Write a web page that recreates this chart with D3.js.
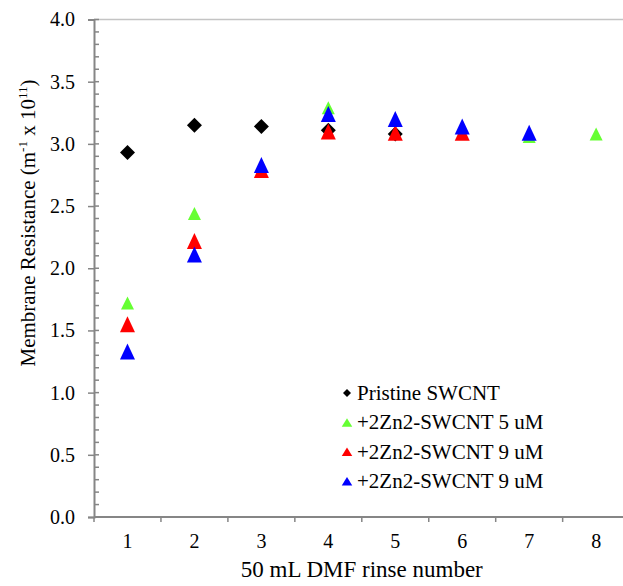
<!DOCTYPE html>
<html>
<head>
<meta charset="utf-8">
<script src="https://cdn.jsdelivr.net/npm/d3@7"></script>
<style>
  body { margin: 0; background: #fff; }
</style>
</head>
<body>
<div id="chart-area"></div>
<script>
// rinse numbers on the x axis
const rinses = [1, 2, 3, 4, 5, 6, 7, 8]
const yTicks = [0, 0.5, 1, 1.5, 2, 2.5, 3, 3.5, 4]

// resistance values, null where a point is not visible
const pristine = [2.93, 3.15, 3.14, 3.11, 3.08, null, null, null]
const zn5 = [1.72, 2.44, null, 3.29, null, null, 3.06, 3.08]
const zn9a = [1.55, 2.22, 2.79, 3.10, 3.09, 3.09, null, null]
const zn9b = [1.33, 2.11, 2.83, 3.24, 3.20, 3.14, 3.09, null]

const seriesNames = ["Pristine SWCNT", "+2Zn2-SWCNT 5 uM", "+2Zn2-SWCNT 9 uM", "+2Zn2-SWCNT 9 uM"]
const seriesColors = ["#000000", "#66ff33", "#ff0000", "#0000ff"]

const FONT = "Liberation Serif"
const W = 623, H = 586
const LEFT = 94, TOP = 19.5, RIGHT = 629.6, BOTTOM = 517

const svg = d3.select("#chart-area").append("svg")
  .attr("width", W)
  .attr("height", H)
  .attr("font-family", FONT)

const x = d3.scaleBand().domain(rinses).range([LEFT, RIGHT])
const y = d3.scaleLinear().domain([0, 4]).range([BOTTOM, TOP])

const axisColor = "#868686"

// top line at 4.0
svg.append("line")
  .attr("x1", LEFT).attr("x2", W)
  .attr("y1", y(4)).attr("y2", y(4))
  .attr("stroke", "#c4c4c4").attr("stroke-width", 1.5)

// minor y ticks (inside)
const minor = d3.range(0, 41).map(d => d / 10)
svg.append("g").selectAll("line")
  .data(minor)
  .join("line")
  .attr("x1", LEFT).attr("x2", LEFT + 5)
  .attr("y1", d => y(d)).attr("y2", d => y(d))
  .attr("stroke", axisColor).attr("stroke-width", 1.5)

// Y axis
const yAxisCall = d3.axisLeft(y)
  .tickValues(yTicks)
  .tickFormat(d3.format(".1f"))
  .tickSize(6)
  .tickPadding(13)
const yAxis = svg.append("g")
  .attr("transform", `translate(${LEFT}, 0)`)
  .call(yAxisCall)
  .attr("font-family", FONT)
  .attr("font-size", 20)
yAxis.select(".domain").attr("stroke", axisColor).attr("stroke-width", 2)
yAxis.selectAll(".tick line").attr("stroke", axisColor).attr("stroke-width", 1.5)
yAxis.selectAll(".tick text").attr("fill", "#000")

// X axis (category, ticks between bands)
const xAxisCall = d3.axisBottom(x).tickSize(0).tickPadding(17)
const xAxis = svg.append("g")
  .attr("transform", `translate(0, ${BOTTOM})`)
  .call(xAxisCall)
  .attr("font-family", FONT)
  .attr("font-size", 20)
xAxis.select(".domain").remove()
xAxis.selectAll(".tick text").attr("fill", "#000")
svg.append("line")
  .attr("x1", LEFT).attr("x2", W)
  .attr("y1", BOTTOM).attr("y2", BOTTOM)
  .attr("stroke", axisColor).attr("stroke-width", 2)
svg.append("g").selectAll("line")
  .data(rinses)
  .join("line")
  .attr("x1", d => x(d)).attr("x2", d => x(d))
  .attr("y1", BOTTOM).attr("y2", BOTTOM + 5)
  .attr("stroke", axisColor).attr("stroke-width", 1.5)

// axis titles
svg.append("text")
  .attr("x", (LEFT + RIGHT) / 2)
  .attr("y", 577)
  .attr("text-anchor", "middle")
  .attr("font-size", 23)
  .text("50 mL DMF rinse number")

const yLabel = svg.append("text")
  .attr("transform", "translate(35, 223) rotate(-90)")
  .attr("text-anchor", "middle")
  .attr("font-size", 21)
yLabel.append("tspan").text("Membrane Resistance (m")
yLabel.append("tspan").attr("font-size", 13).attr("dy", -8).text("-1")
yLabel.append("tspan").attr("dy", 8).text(" x 10")
yLabel.append("tspan").attr("font-size", 13).attr("dy", -8).text("11")
yLabel.append("tspan").attr("dy", 8).text(")")

// marker shapes
function diamond(r) {
  return `M0,${-r}L${r},0L0,${r}L${-r},0Z`
}
function triangle(w, h) {
  return `M0,${-h / 2}L${w / 2},${h / 2}L${-w / 2},${h / 2}Z`
}

const series = [
  { values: pristine, shape: diamond(7.5), legendShape: diamond(4) },
  { values: zn5, shape: triangle(13, 13), legendShape: triangle(10.5, 8.5) },
  { values: zn9a, shape: triangle(15, 16), legendShape: triangle(10.5, 8.5) },
  { values: zn9b, shape: triangle(15, 16), legendShape: triangle(10.5, 8.5) }
]

series.forEach((s, i) => {
  const pts = rinses.map((r, j) => ({ r, v: s.values[j] })).filter(d => d.v !== null)
  svg.append("g").selectAll("path")
    .data(pts)
    .join("path")
    .attr("d", s.shape)
    .attr("fill", seriesColors[i])
    .attr("transform", d => `translate(${x(d.r) + x.bandwidth() / 2}, ${y(d.v)})`)
})

// Legend
const legend = svg.append("g")
  .attr("transform", "translate(347, 393)")

seriesNames.forEach((name, i) => {
  const row = legend.append("g")
    .attr("transform", `translate(0, ${i * 29.4})`)
  row.append("path")
    .attr("d", series[i].legendShape)
    .attr("fill", seriesColors[i])
  row.append("text")
    .attr("x", 10)
    .attr("y", 7)
    .attr("font-size", 21)
    .text(name)
})
</script>
</body>
</html>
